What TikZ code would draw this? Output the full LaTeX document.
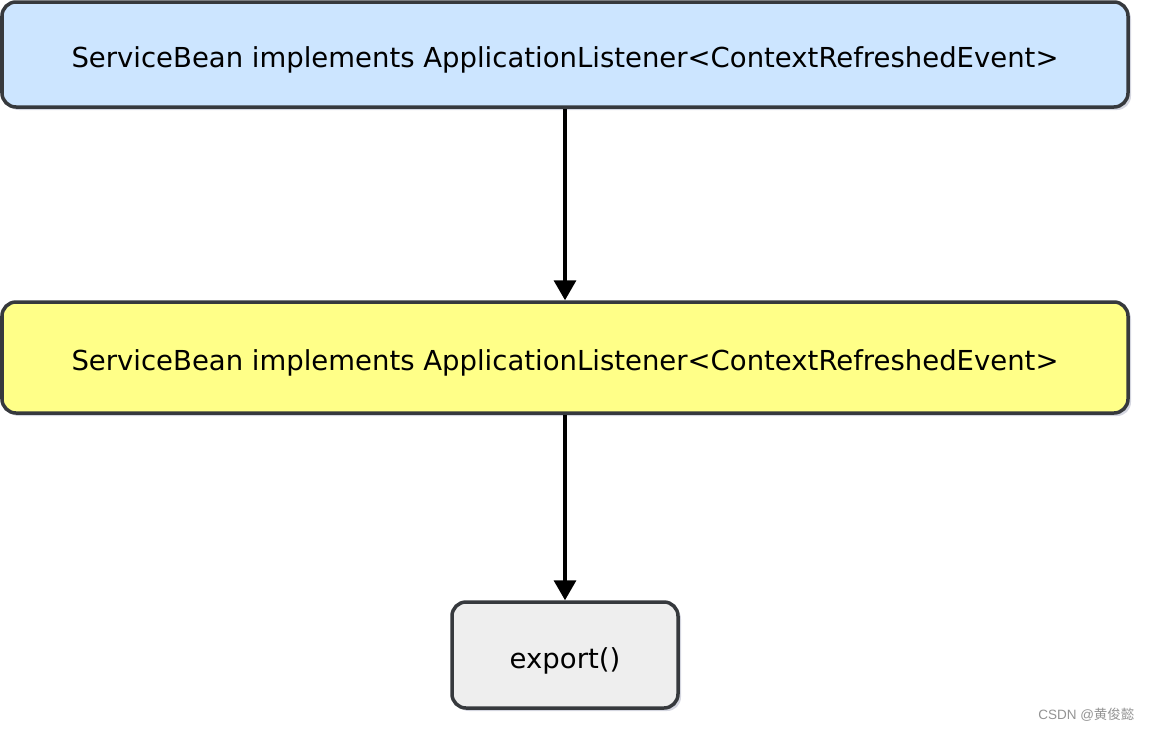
\documentclass[tikz,border=0pt]{standalone}
\usepackage{fontspec}
\setmainfont{DejaVu Sans}
\newfontfamily\wm{Liberation Sans}
\newfontfamily\cjk{Noto Sans CJK SC}
\usetikzlibrary{arrows.meta,shadows}
\definecolor{bordc}{HTML}{36393D}
\definecolor{bluef}{HTML}{CCE5FF}
\definecolor{yellf}{HTML}{FFFF88}
\definecolor{grayf}{HTML}{EEEEEE}
\definecolor{shad}{HTML}{B8BACC}
\newcommand{\lowtext}[1]{\raisebox{-13pt}[0pt][0pt]{#1}}
\tikzset{
  box/.style={draw=bordc, line width=3.5pt, rounded corners=14pt, inner sep=0pt,
    font=\fontsize{27.5}{32}\selectfont, text=black,
    general shadow={fill=shad, opacity=0.6, shadow xshift=3pt, shadow yshift=-3pt}},
  conn/.style={line width=3.5pt, -{Triangle[length=20pt,width=22pt]}, black}
}
\begin{document}
\begin{tikzpicture}[x=1pt,y=-1pt]
\useasboundingbox (0,0) rectangle (1152,732);
\node[box, fill=bluef, minimum width=1126pt, minimum height=105pt] (a) at (565,54.5) {\lowtext{ServiceBean implements ApplicationListener<ContextRefreshedEvent>}};
\node[box, fill=yellf, minimum width=1126pt, minimum height=111pt] (b) at (565,357.5) {\lowtext{ServiceBean implements ApplicationListener<ContextRefreshedEvent>}};
\node[box, fill=grayf, minimum width=226pt, minimum height=106pt] (c) at (565,655) {\lowtext{export()}};
\draw[conn] (a.south) -- (b.north);
\draw[conn] (b.south) -- (c.north);
\node[text=gray!85, font=\fontsize{13.5}{15}\selectfont\wm, anchor=east] (w) at (1138,715) {CSDN @{\cjk 黄俊懿}};
\end{tikzpicture}
\end{document}
